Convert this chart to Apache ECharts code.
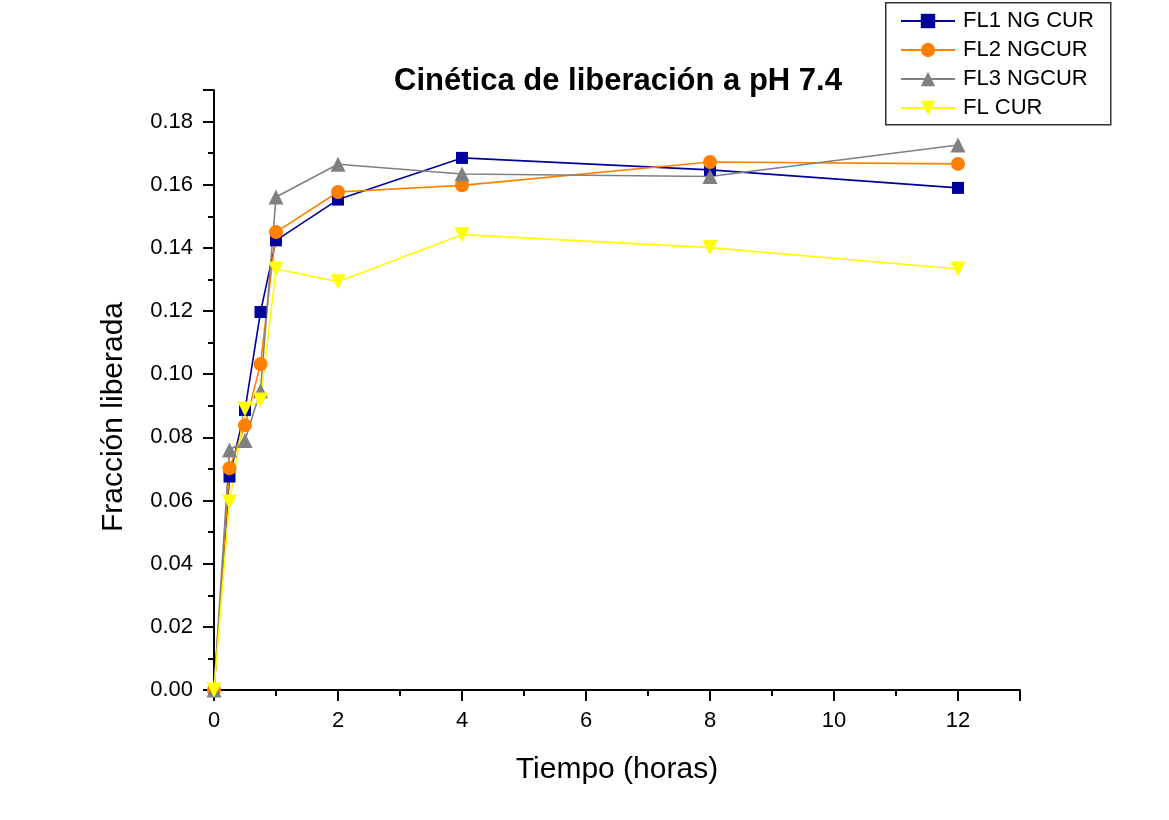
<!DOCTYPE html>
<html>
<head>
<meta charset="utf-8">
<script src="https://cdn.jsdelivr.net/npm/echarts@6/dist/echarts.min.js"></script>
<style>
  html, body { margin: 0; padding: 0; background: #ffffff; }
  #chart { width: 1169px; height: 820px; }
</style>
</head>
<body>
<div id="chart"></div>
<script>
// Sampling times (hours)
const tiempos = [0, 0.25, 0.5, 0.75, 1, 2, 4, 8, 12];

// Released fraction per formulation
const fl1NgCur = [0, 0.0676, 0.0887, 0.1197, 0.1424, 0.1553, 0.1685, 0.1647, 0.1590];
const fl2NgCur = [0, 0.0702, 0.0838, 0.1032, 0.1450, 0.1577, 0.1598, 0.1672, 0.1666];
const fl3NgCur = [0, 0.0760, 0.0790, 0.0948, 0.1561, 0.1665, 0.1634, 0.1626, 0.1726];
const flCur    = [0, 0.0595, 0.0890, 0.0918, 0.1333, 0.1293, 0.1442, 0.1401, 0.1333];

const seriesNames = ['FL1 NG CUR', 'FL2 NGCUR', 'FL3 NGCUR', 'FL CUR'];
const seriesColors = ['#00009c', '#ff8000', '#808080', '#ffff00'];

const FONT = '"Liberation Sans", Arial, sans-serif';

function pairs(vals) {
  return tiempos.map((t, i) => [t, vals[i]]);
}

const chart = echarts.init(document.getElementById('chart'), null, { renderer: 'canvas' });

const axisLine = { show: true, lineStyle: { color: '#000', width: 2 } };

chart.setOption({
  backgroundColor: '#ffffff',
  animation: false,
  title: {
    text: 'Cinética de liberación a pH 7.4',
    left: 613,
    top: 61,
    textAlign: 'center',
    textStyle: { fontFamily: FONT, fontWeight: 'bold', fontSize: 31, color: '#000' }
  },
  // legend frame
  graphic: [{
    type: 'rect',
    left: 885,
    top: 2,
    z: 0,
    shape: { width: 225, height: 122 },
    style: { fill: '#ffffff', stroke: '#333333', lineWidth: 1.5 }
  }],
  legend: {
    orient: 'vertical',
    left: 900,
    top: 10,
    padding: 0,
    itemGap: 7,
    itemWidth: 54,
    itemHeight: 18,
    z: 5,
    textStyle: { fontFamily: FONT, fontSize: 22, lineHeight: 22, color: '#000', padding: [0, 0, 0, 3] },
    data: seriesNames
  },
  grid: { left: 214, right: 149, top: 90, bottom: 130, containLabel: false },
  xAxis: {
    type: 'value',
    min: 0,
    max: 13,
    interval: 2,
    name: 'Tiempo (horas)',
    nameLocation: 'middle',
    nameGap: 65,
    nameTextStyle: { fontFamily: FONT, fontSize: 30, color: '#000' },
    axisLine: axisLine,
    axisTick: { show: true, inside: false, length: 11, lineStyle: { color: '#000', width: 2 } },
    minorTick: { show: true, splitNumber: 2, length: 6, lineStyle: { color: '#000', width: 2 } },
    splitLine: { show: false },
    axisLabel: {
      fontFamily: FONT, fontSize: 22, color: '#000', margin: 20,
      formatter: v => (v <= 12 ? String(v) : '')
    }
  },
  yAxis: {
    type: 'value',
    min: 0,
    max: 0.19,
    interval: 0.02,
    name: 'Fracción liberada',
    nameLocation: 'middle',
    nameGap: 85,
    nameTextStyle: { fontFamily: FONT, fontSize: 30, color: '#000', padding: [0, 54, 0, 0] },
    axisLine: axisLine,
    axisTick: { show: true, inside: false, length: 11, lineStyle: { color: '#000', width: 2 } },
    minorTick: { show: true, splitNumber: 2, length: 6, lineStyle: { color: '#000', width: 2 } },
    splitLine: { show: false },
    axisLabel: {
      fontFamily: FONT, fontSize: 22, color: '#000', margin: 21,
      formatter: v => (v > 0.185 ? '' : v.toFixed(2))
    }
  },
  series: [
    {
      name: seriesNames[0], type: 'line', data: pairs(fl1NgCur),
      symbol: 'rect', symbolSize: 12,
      itemStyle: { color: seriesColors[0] },
      lineStyle: { color: seriesColors[0], width: 1.6 }
    },
    {
      name: seriesNames[1], type: 'line', data: pairs(fl2NgCur),
      symbol: 'circle', symbolSize: 14,
      itemStyle: { color: seriesColors[1] },
      lineStyle: { color: seriesColors[1], width: 1.6 }
    },
    {
      name: seriesNames[2], type: 'line', data: pairs(fl3NgCur),
      symbol: 'triangle', symbolSize: 15,
      itemStyle: { color: seriesColors[2] },
      lineStyle: { color: seriesColors[2], width: 1.6 }
    },
    {
      name: seriesNames[3], type: 'line', data: pairs(flCur),
      symbol: 'triangle', symbolRotate: 180, symbolSize: 15,
      itemStyle: { color: seriesColors[3] },
      lineStyle: { color: seriesColors[3], width: 1.6 }
    }
  ]
});
</script>
</body>
</html>
